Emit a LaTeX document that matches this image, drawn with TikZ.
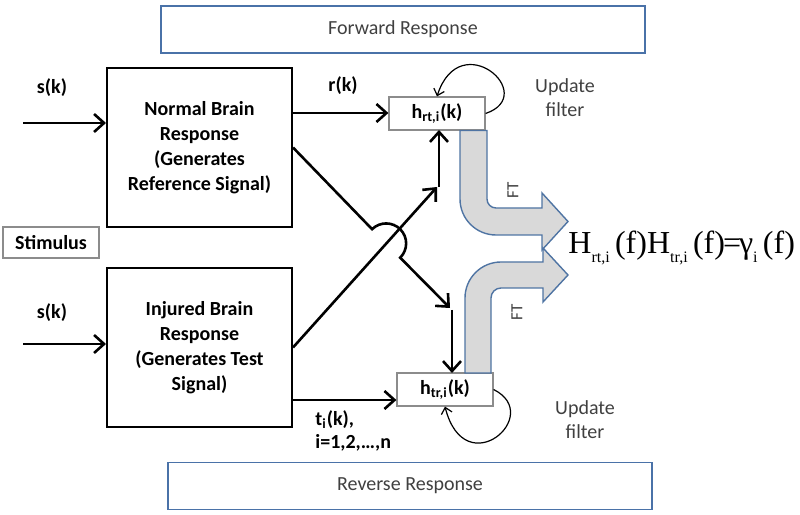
\documentclass[tikz,border=0pt]{standalone}
\usepackage{fontspec}
\setmainfont{Carlito}
\newfontfamily\eqfont{Liberation Serif}
\usetikzlibrary{arrows.meta}
\definecolor{boxblue}{HTML}{4A72A8}
\definecolor{arrblue}{HTML}{4F74A3}
\definecolor{blockgray}{HTML}{D9D9D9}
\definecolor{smallgray}{HTML}{8C8C8C}
\definecolor{txtgray}{HTML}{404040}
\newcommand{\eqsub}[1]{\raisebox{-4.5pt}{\fontsize{8}{8}\selectfont #1}}
\tikzset{
  lbl/.style={font=\fontsize{10}{12.5}\selectfont\bfseries, inner sep=0pt},
  bigbox/.style={draw=black, line width=1pt, minimum width=92.5pt, minimum height=79.5pt, align=center, font=\fontsize{10}{12.5}\selectfont\bfseries, inner sep=0pt},
  respbox/.style={draw=boxblue, line width=0.7pt, minimum width=242pt, minimum height=23.5pt, font=\fontsize{10}{12.5}\selectfont, text=txtgray},
  filtbox/.style={draw=smallgray, line width=0.6pt, minimum width=48pt, minimum height=16.5pt, font=\fontsize{10}{12.5}\selectfont\bfseries, inner sep=0pt},
  sig/.style={line width=1.3pt, -{Straight Barb[length=5pt,width=9pt]}},
  loop/.style={line width=0.6pt, -{Straight Barb[length=3pt,width=5.5pt]}},
  block/.style={draw=arrblue, line width=0.7pt, fill=blockgray},
  small/.style={font=\fontsize{10}{12}\selectfont, text=txtgray, align=center, inner sep=0pt},
  ftlbl/.style={font=\fontsize{8.5}{10}\selectfont, text=txtgray, rotate=90, inner sep=0pt}
}
\begin{document}
\begin{tikzpicture}[x=0.5pt,y=0.5pt]
\useasboundingbox (0,0) rectangle (800,515);

% response boxes
\node[respbox] (fwd) at (403,485.5) {Forward Response};
\node[respbox] (rev) at (410,29) {Reverse Response};

% brain boxes
\node[bigbox] (normal) at (199.5,367.5) {Normal Brain\\Response\\(Generates\\Reference Signal)};
\node[bigbox] (injured) at (199.5,167.5) {Injured Brain\\Response\\(Generates Test\\Signal)};

% stimulus
\node[draw=smallgray, line width=0.6pt, minimum width=48pt, minimum height=15.5pt, font=\fontsize{10}{12.5}\selectfont\bfseries, inner sep=0pt] (stim) at (51,272.5) {Stimulus};

% filter boxes
\node[filtbox] (hrt) at (437,401.5) {h\textsubscript{rt,i}(k)};
\node[filtbox] (htr) at (445,125.5) {h\textsubscript{tr,i}(k)};

% inputs
\coordinate (s1) at (23,392);
\coordinate (s2) at (23,171);
\draw[sig] (s1) -- (s1 -| normal.west);
\draw[sig] (s2) -- (s2 -| injured.west);
\node[lbl] (sk1) at (52,427) {s(k)};
\node[lbl] (sk2) at (52,202) {s(k)};

% r(k)
\coordinate (r0) at (normal.east |- 0,402);
\draw[sig] (r0) -- (r0 -| hrt.west);
\node[lbl] (rk) at (343,429) {r(k)};

% t(k)
\coordinate (t0) at (injured.east |- 0,115);
\draw[sig] (t0) -- (t0 -| htr.west);
\node[lbl, anchor=west] (tk) at (315,95) {t\textsubscript{i}(k),};
\node[lbl, anchor=west] (ik) at (315,72) {i=1,2,…,n};

% crossing diagonals
\coordinate (dA) at (450,207);
\coordinate (dB) at (437,328);
\draw[sig] (normal.east) -- (372.1,285.8) arc[start angle=134.6, end angle=-45.4, radius=10pt] -- (dA);
\draw[sig] (452,205) -- (452,142);
\draw[sig] (injured.east) -- (dB);
\draw[sig] (439,328) -- (439,385);

% update loops
\draw[loop] (hrt.east) .. controls (540,420) and (460,490) .. (hrt.north);
\draw[loop] (htr.east) .. controls (545,100) and (465,30) .. (htr.south);
\node[small] (up1) at (565,417) {Update\\filter};
\node[small] (up2) at (585,95) {Update\\filter};

% block arrows
\draw[block] (460,384.5) -- (487,384.5) -- (487,316) arc[start angle=180, end angle=270, radius=4.5pt]
  -- (542,307) -- (542,322) -- (568,293.5) -- (542,265) -- (542,280) -- (496,280)
  arc[start angle=270, end angle=180, radius=18pt] -- cycle;
\draw[block] (465,142) -- (465,217) arc[start angle=180, end angle=90, radius=18pt]
  -- (543,253) -- (543,267) -- (568,240) -- (543,213) -- (543,227) -- (501,227)
  arc[start angle=90, end angle=180, radius=5pt] -- (491,142) -- cycle;
\node[ftlbl] (ft1) at (513,325) {FT};
\node[ftlbl] (ft2) at (517,203) {FT};

% equation
\node[anchor=base west, inner sep=0pt, font=\eqfont\fontsize{16}{20}\selectfont] (eq) at (568,261)
  {H\eqsub{rt,i}\,(f)H\eqsub{tr,i}\,(f)\kern-1pt=\kern-1ptγ\eqsub{i}\,(f)};
\end{tikzpicture}
\end{document}
